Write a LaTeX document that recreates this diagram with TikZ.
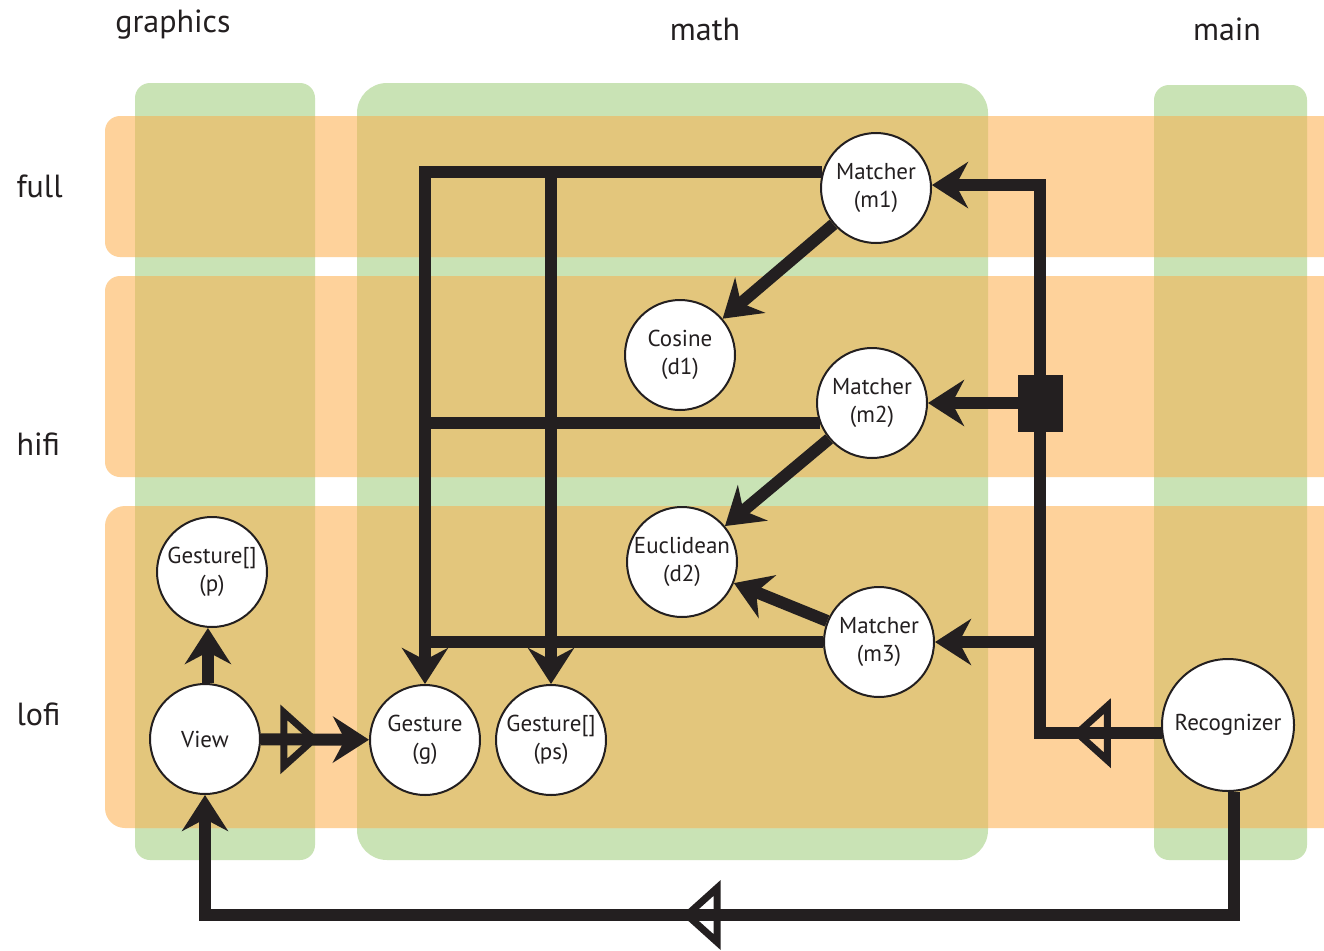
\documentclass[tikz,border=0pt]{standalone}
\usepackage{fontspec}
\setmainfont{PT Sans}
\usetikzlibrary{arrows.meta,calc}

\definecolor{bandgreen}{HTML}{C9E3B5}
\definecolor{bandorange}{HTML}{FED29B}
\definecolor{bandmix}{HTML}{E3C67C}
\definecolor{ink}{HTML}{231F20}

\pgfdeclarelayer{back}
\pgfsetlayers{back,main}

\tikzset{
  obj/.style={circle, draw=ink, line width=2pt, fill=white, text=ink,
    minimum size=110pt, inner sep=0pt, align=center,
    font=\fontsize{23}{28}\selectfont},
  conn/.style={draw=ink, line width=12pt, line join=miter},
  tip/.style={-{Stealth[length=36pt,width=46pt,inset=12pt]}},
  hollow/.style={draw=ink, line width=7pt, line join=miter, fill=none},
  lab/.style={font=\fontsize{32}{36}\selectfont, text=ink},
  opentri/.pic={\draw[hollow] (-15,0) -- (15,-27) -- (15,27) -- cycle;},
}

\begin{document}
\begin{tikzpicture}[x=1pt,y=-1pt]
\useasboundingbox (0,0) rectangle (1324,950);

% ---------- objects ----------
\node[obj] (m1) at (876,188) {Matcher\\(m1)};
\node[obj] (d1) at (680,355) {Cosine\\(d1)};
\node[obj] (m2) at (872,403) {Matcher\\(m2)};
\node[obj] (d2) at (682,562) {Euclidean\\(d2)};
\node[obj] (m3) at (879,642) {Matcher\\(m3)};
\node[obj] (p) at (212,572) {Gesture[]\\(p)};
\node[obj] (view) at (205,739) {View};
\node[obj] (g) at (425,740) {Gesture\\(g)};
\node[obj] (ps) at (551,740) {Gesture[]\\(ps)};
\node[obj, minimum size=132pt] (rec) at (1228,725) {Recognizer};

% ---------- column and row titles ----------
\node[lab, anchor=base] (tgraphics) at (173,33) {graphics};
\node[lab, anchor=base] (tmath) at (705,41) {math};
\node[lab, anchor=base] (tmain) at (1227,41) {main};
\node[lab, anchor=base west] (tfull) at (13,197) {full};
\node[lab, anchor=base west] (thifi) at (13,455) {hifi};
\node[lab, anchor=base west] (tlofi) at (13,725) {lofi};

\coordinate (bus) at (1040,0);

\begin{pgfonlayer}{back}
  \fill[white] (0,0) rectangle (1324,950);
  % package columns
  \fill[bandgreen, rounded corners=15pt] (135,83) rectangle (315,860);
  \fill[bandgreen, rounded corners=30pt] (357,83) rectangle (988,860);
  \fill[bandgreen, rounded corners=15pt] (1154,85) rectangle (1307,860);
  % fidelity rows
  \fill[bandorange, rounded corners=15pt] (105,116) rectangle (1360,257);
  \fill[bandorange, rounded corners=15pt] (105,276) rectangle (1360,477);
  \fill[bandorange, rounded corners=20pt] (105,506) rectangle (1360,828);
  % where rows cross columns
  \begin{scope}
    \clip[rounded corners=15pt] (135,83) rectangle (315,860)
      [rounded corners=30pt] (357,83) rectangle (988,860)
      [rounded corners=15pt] (1154,85) rectangle (1307,860);
    \fill[bandmix, rounded corners=15pt] (105,116) rectangle (1360,257);
    \fill[bandmix, rounded corners=15pt] (105,276) rectangle (1360,477);
    \fill[bandmix, rounded corners=20pt] (105,506) rectangle (1360,828);
  \end{scope}

  % matchers feed both gesture objects
  \draw[conn, tip] (m1.163) -| (g.north);
  \draw[conn, tip] (ps.north |- m1.163) -- (ps.north);
  \draw[conn] (m2.201) -- (m2.201 -| g.north);
  \draw[conn] (m3.west) -- (m3.west -| g.north);

  % matchers use distance functions
  \draw[conn, tip] (m1) -- (d1);
  \draw[conn, tip] (m2) -- (d2);
  \draw[conn, tip] (m3) -- (d2);

  % recognizer owns the matchers
  \draw[conn, tip] (rec.187) -- (rec.187 -| bus) -- (m1.3 -| bus) -- (m1.3);
  \draw[conn, tip] (m2.east -| bus) -- (m2.east);
  \draw[conn, tip] (m3.east -| bus) -- (m3.east);
  \coordinate (rt) at ($(rec.187)!0.57!(rec.187 -| bus)$);
  \pic at (rt) {opentri};

  % recognizer back to the view
  \coordinate (low) at (702,915);
  \draw[conn, tip] (rec.-85) |- (low) -| (view.south);
  \pic at (low) {opentri};

  % view to gestures
  \draw[conn, tip] (view.87) -- (view.87 |- p.south);
  \draw[conn, tip] (view) -- (g);
  \coordinate (vt) at ($(view.east)!0.35!(g.west)$);
  \pic[rotate=180] at (vt) {opentri};
\end{pgfonlayer}

% composition marker on the recognizer bus
\node[fill=ink, minimum width=45pt, minimum height=57pt, inner sep=0pt] (joint) at (m2.east -| bus) {};
\end{tikzpicture}
\end{document}
